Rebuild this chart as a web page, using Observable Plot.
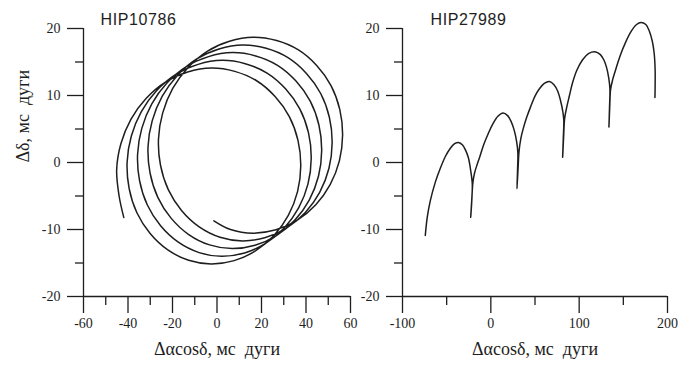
<!DOCTYPE html>
<html><head><meta charset="utf-8">
<script src="https://cdn.jsdelivr.net/npm/d3@7"></script>
<script src="https://cdn.jsdelivr.net/npm/@observablehq/plot@0.6"></script>
<style>
body{margin:0;background:#fff;}
#wrap{position:relative;width:678px;height:365px;overflow:hidden;background:#fff;}
.panel{position:absolute;top:0;}
</style></head>
<body><div id="wrap"><div class="panel" id="left" style="left:0"></div><div class="panel" id="right" style="left:330px"></div></div>
<script>
// ---- Panel titles and axis labels ----
const titleLeft = "HIP10786";
const titleRight = "HIP27989";
const xLabel = "Δαcosδ, мс  дуги";
const yLabel = "Δδ, мс  дуги";

// ---- Ticks ----
const yMajor = [-20, -10, 0, 10, 20];
const yMinor = [-15, -5, 5, 15];
const xMajorLeft = [-60, -40, -20, 0, 20, 40, 60];
const xMinorLeft = [-50, -30, -10, 10, 30, 50];
const xMajorRight = [-100, 0, 100, 200];
const xMinorRight = [-50, 50, 150];

// ---- HIP10786 path (Δαcosδ, Δδ in mas), loop by loop ----
const hip10786Start = [[-41.9,-8.2],[-44.0,-5.0]];
const hip10786Loop1 = [[-45.1,-1.1],[-43.2,2.8],[-38.7,6.45],[-31.9,9.55],[-23.2,12.0],[-13.2,13.5],[-2.5,14.1],[8.0,13.6],[17.8,12.2],[26.1,9.85],[32.5,6.85],[36.4,3.3],[37.65,-0.5],[36.2,-4.35],[32.05,-7.9],[25.6,-10.9],[17.3,-13.2],[7.7,-14.65],[-2.6,-15.15],[-12.75,-14.6],[-22.1,-13.05],[-30.05,-10.6],[-36.0,-7.5],[-39.5,-3.85]];
const hip10786Loop2 = [[-40.4,0.05],[-38.5,3.95],[-34.0,7.6],[-27.2,10.7],[-18.5,13.15],[-8.5,14.65],[2.2,15.25],[12.7,14.75],[22.5,13.35],[30.8,11.0],[37.2,8.0],[41.1,4.45],[42.35,0.65],[40.9,-3.2],[36.75,-6.75],[30.3,-9.75],[22.0,-12.05],[12.4,-13.5],[2.1,-14.0],[-8.05,-13.45],[-17.4,-11.9],[-25.35,-9.45],[-31.3,-6.35],[-34.8,-2.7]];
const hip10786Loop3 = [[-35.7,1.2],[-33.8,5.1],[-29.3,8.75],[-22.5,11.85],[-13.8,14.3],[-3.8,15.8],[6.9,16.4],[17.4,15.9],[27.2,14.5],[35.5,12.15],[41.9,9.15],[45.8,5.6],[47.05,1.8],[45.6,-2.05],[41.45,-5.6],[35.0,-8.6],[26.7,-10.9],[17.1,-12.35],[6.8,-12.85],[-3.35,-12.3],[-12.7,-10.75],[-20.65,-8.3],[-26.6,-5.2],[-30.1,-1.55]];
const hip10786Loop4 = [[-31.0,2.35],[-29.1,6.25],[-24.6,9.9],[-17.8,13.0],[-9.1,15.45],[0.9,16.95],[11.6,17.55],[22.1,17.05],[31.9,15.65],[40.2,13.3],[46.6,10.3],[50.5,6.75],[51.75,2.95],[50.3,-0.9],[46.15,-4.45],[39.7,-7.45],[31.4,-9.75],[21.8,-11.2],[11.5,-11.7],[1.35,-11.15],[-8.0,-9.6],[-15.95,-7.15],[-21.9,-4.05],[-25.4,-0.4]];
const hip10786Loop5 = [[-26.3,3.5],[-24.4,7.4],[-19.9,11.05],[-13.1,14.15],[-4.4,16.6],[5.6,18.1],[16.3,18.7],[26.8,18.2],[36.6,16.8],[44.9,14.45],[51.3,11.45],[55.2,7.9],[56.45,4.1],[55.0,0.25],[50.85,-3.3],[44.4,-6.3],[36.1,-8.6],[26.5,-10.05],[16.2,-10.55],[6.05,-10.0],[-1.4,-8.7]];

// ---- HIP27989 path ----
const hip27989Arch1 = [[-74.2,-10.9],[-72,-8.2],[-68.5,-5.7],[-63,-3.0],[-57.3,-0.9],[-51.5,0.9],[-46,2.1],[-41,2.8],[-36.7,3.0],[-32,2.6],[-28.5,1.8],[-25.4,0.7],[-22.8,-1.2],[-21.0,-3.2],[-21.6,-5.8],[-22.8,-8.2],[-21.6,-5.6],[-20.3,-3.0]];
const hip27989Arch2 = [[-18.3,-1.5],[-15.5,-0.3],[-12.4,0.9],[-8,2.7],[-3,4.3],[2,5.7],[8,6.9],[13.8,7.4],[19,7.0],[23,6.1],[26.5,4.8],[29.2,3.1],[30.6,1.4],[30.2,-1.3],[29.6,-3.9],[30.8,-1.0],[31.9,1.6]];
const hip27989Arch3 = [[34,3.6],[37,5.2],[40.5,6.7],[45,8.3],[50,9.9],[55,11.0],[60.5,11.8],[66.3,12.1],[71.5,11.6],[75.5,10.7],[78.8,9.3],[81.5,7.6],[82.6,6.3],[82,3.5],[81.3,0.8],[82.4,3.8],[83.6,6.6]];
const hip27989Arch4 = [[86,8.3],[89,10],[92.5,11.9],[97.5,13.8],[103.7,15.3],[111,16.3],[118.8,16.5],[124,16.1],[128,15.3],[131,14.2],[133.5,12.6],[134.8,11.0],[134.3,8.0],[133.7,5.3],[134.6,8.3],[135.6,10.9]];
const hip27989Arch5 = [[138,12.4],[141.2,13.8],[146,15.8],[152.4,17.9],[159,19.6],[165,20.6],[170,20.9],[175.5,20.6],[179.5,19.6],[182.8,18.1],[185,16.2],[186,13.8],[186,11.5],[185.8,9.7]];

const leftPath = [].concat(hip10786Start, hip10786Loop1, hip10786Loop2, hip10786Loop3, hip10786Loop4, hip10786Loop5);
const rightPath = [].concat(hip27989Arch1, hip27989Arch2, hip27989Arch3, hip27989Arch4, hip27989Arch5);

const ink = "#1e1e1e";
const serif = "'Liberation Serif', 'Times New Roman', serif";
const sans = "'Liberation Sans', Arial, sans-serif";
const fmt = d => String(d);

function panel({width, marginLeft, marginRight, xDomain, xMajor, xMinor, path, title, titleDx, showYLabel}) {
  const marks = [
    Plot.ruleX([xDomain[0]], {stroke: ink, strokeWidth: 1.3}),
    Plot.ruleY([-20], {stroke: ink, strokeWidth: 1.3}),
    Plot.axisY({ticks: yMajor, tickSize: 16, tickPadding: 7, tickFormat: fmt, label: null, stroke: ink, strokeWidth: 1.3, fill: ink, fontSize: 14}),
    Plot.axisY({ticks: yMinor, tickSize: 8, tickFormat: () => "", label: null, stroke: ink, strokeWidth: 1.3}),
    Plot.axisX({ticks: xMajor, tickSize: 17, tickPadding: 5, tickFormat: fmt, label: null, stroke: ink, strokeWidth: 1.3, fill: ink, fontSize: 14}),
    Plot.axisX({ticks: xMinor, tickSize: 9, tickFormat: () => "", label: null, stroke: ink, strokeWidth: 1.3}),
    Plot.line(path, {x: d => d[0], y: d => d[1], curve: "catmull-rom", stroke: ink, strokeWidth: 1.5}),
    Plot.text([xLabel], {text: d => d, frameAnchor: "bottom", dy: 58, fontSize: 18, fill: ink}),
    Plot.text([title], {text: d => d, frameAnchor: "top-left", dx: titleDx, dy: -4, textAnchor: "start", lineAnchor: "bottom", fontSize: 16, fill: ink})
  ];
  if (showYLabel) marks.push(Plot.text([yLabel], {text: d => d, frameAnchor: "left", dx: -60, rotate: -90, fontSize: 18, fill: ink}));
  const svg = Plot.plot({
    width, height: 365,
    marginLeft, marginRight, marginTop: 28, marginBottom: 69,
    x: {domain: xDomain},
    y: {domain: [-20, 20]},
    style: {fontFamily: serif, fontSize: "14px", color: ink, background: "transparent", overflow: "visible"},
    marks
  });
  const texts = d3.select(svg).selectAll("text");
  texts.style("font-family", serif);
  texts.filter(function() { return this.textContent === title; })
    .style("font-family", sans).style("letter-spacing", "0.6px");
  return svg;
}

document.getElementById("left").appendChild(panel({width: 360, marginLeft: 83, marginRight: 10, xDomain: [-60, 60], xMajor: xMajorLeft, xMinor: xMinorLeft, path: leftPath, title: titleLeft, titleDx: 17, showYLabel: true}));
document.getElementById("right").appendChild(panel({width: 348, marginLeft: 72, marginRight: 11, xDomain: [-100, 200], xMajor: xMajorRight, xMinor: xMinorRight, path: rightPath, title: titleRight, titleDx: 28, showYLabel: false}));
</script>
</body></html>
